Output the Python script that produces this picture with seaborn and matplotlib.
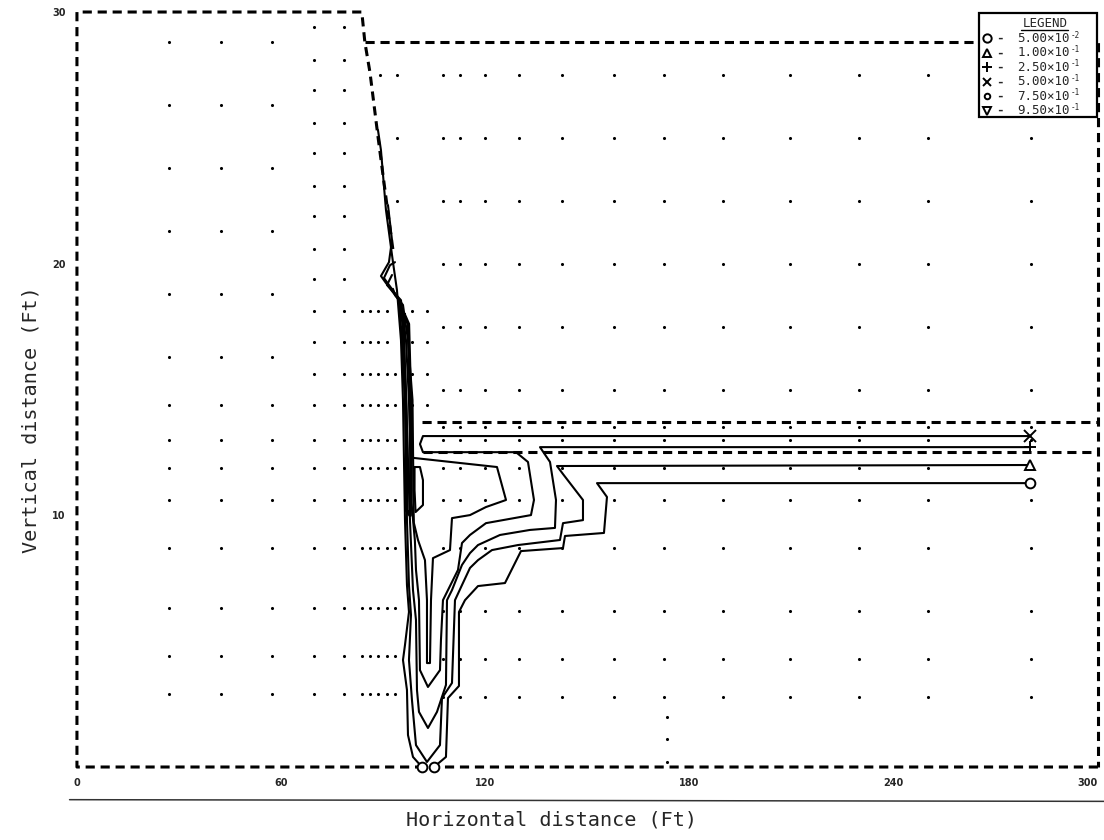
import numpy as np
import pandas as pd
import matplotlib
matplotlib.use("Agg")
import matplotlib.pyplot as plt
from matplotlib.lines import Line2D
import seaborn as sns

# ---- mesh nodes (ft) ----
left_cols = [27.0, 42.3, 57.3]
left_rows = [28.8, 26.3, 23.8, 21.3, 18.8, 16.3, 14.4, 13.0, 11.9, 10.6, 8.7, 6.3, 4.4, 2.9]
mid_cols = [69.6, 78.5, 83.7, 86.1, 88.5, 91.2, 93.5]
mid_rows = [29.4, 28.1, 26.9, 25.6, 24.4, 23.1, 21.9, 20.6, 19.4, 18.1, 16.9, 15.6,
            14.4, 13.0, 11.9, 10.6, 8.7, 6.3, 4.4, 2.9]
near_cols = [98.4, 102.9]
right_cols = [89.0, 94.0, 107.6, 112.5, 119.9, 129.9, 142.5, 157.8, 172.5, 189.8,
              209.5, 229.8, 250.1, 280.3]
right_rows = [27.5, 25.0, 22.5, 20.0, 17.5, 15.0, 13.5, 13.0, 11.9, 10.6, 8.7, 6.2, 4.3, 2.8]
extra_x = [173.4, 173.4, 173.4]
extra_y = [2.0, 1.1, 0.2]

# ---- domain boundary (ft) ----
slope_x = [96.8, 96.5, 95.5, 92.9, 91.4, 88.5, 86.1, 84.6, 83.7]
slope_y = [0.0, 12.0, 16.0, 20.5, 22.0, 25.0, 27.6, 28.8, 30.0]
outer_x = [300, 0, 0, 83.7, 84.6, 86.1, 88.5, 91.4, 92.9]
outer_y = [0, 0, 30, 30, 28.8, 27.6, 25.0, 22.0, 20.5]
pond_x = [84.6, 300, 300]
pond_y = [28.8, 28.8, 0]
layer_top = 13.7
layer_bot = 12.5
layer_x0 = 101.4

# ---- concentration contours (ft) ----
c_005 = [(280.05, 11.28), (152.81, 11.28), (155.74, 10.73), (154.86, 9.30), (143.40, 9.18),
         (142.82, 8.70), (130.47, 8.58), (125.77, 7.31), (117.84, 7.19), (114.02, 6.63),
         (112.25, 6.16), (112.25, 3.22), (109.02, 2.74), (108.43, 0.40), (104.91, 0.0)]
c_005_left = [(101.38, 0.0), (98.74, 0.40), (97.27, 1.27), (96.97, 3.06), (95.80, 4.25),
              (96.39, 4.85), (97.56, 6.16), (96.97, 7.23), (96.39, 9.81), (96.09, 12.20),
              (95.80, 14.58), (95.21, 16.96), (94.03, 18.95), (92.86, 20.06), (90.80, 22.13),
              (89.33, 24.51), (88.45, 25.31)]
c_010 = [(280.05, 12.00), (141.05, 11.96), (142.82, 11.64), (148.69, 10.61), (148.69, 9.81),
         (142.82, 9.69), (141.93, 9.02), (129.59, 8.82), (121.95, 8.62), (117.84, 8.22),
         (115.49, 7.91), (113.14, 7.23), (111.08, 6.63), (110.20, 3.34), (107.26, 2.74),
         (106.67, 0.87), (102.85, 0.20), (99.62, 0.87), (98.44, 2.66), (97.56, 4.25),
         (98.15, 6.04), (97.56, 7.23), (96.97, 9.81), (96.68, 12.20), (96.39, 14.58),
         (95.50, 16.96), (94.62, 18.55), (90.80, 19.23), (89.33, 19.51), (91.68, 20.06),
         (92.57, 20.94), (91.39, 22.33)]
c_025 = [(280.05, 12.71), (136.06, 12.71), (139.00, 12.12), (140.76, 10.61), (140.46, 9.50),
         (133.12, 9.42), (124.30, 9.22), (117.84, 8.82), (115.49, 8.50), (113.14, 8.03),
         (110.20, 7.03), (108.73, 6.63), (108.43, 3.26), (105.79, 2.19), (103.14, 1.55),
         (100.50, 2.19), (99.91, 3.06), (99.62, 5.84), (98.74, 7.03), (97.85, 9.81),
         (97.27, 12.20), (96.68, 14.58), (96.09, 16.96), (94.92, 18.55), (90.21, 19.43),
         (91.98, 19.94), (93.45, 20.06)]
c_050 = [(280.05, 13.15), (101.67, 13.15), (100.79, 12.83), (101.67, 12.51), (129.00, 12.51),
         (132.53, 12.12), (134.29, 10.61), (133.41, 10.01), (120.19, 9.69), (115.49, 9.22),
         (113.14, 8.90), (111.96, 7.83), (107.55, 6.63), (106.96, 5.05), (106.67, 3.85),
         (103.14, 3.18), (100.79, 3.85), (100.50, 6.63), (99.62, 7.83), (99.30, 9.00),
         (98.30, 10.50), (98.00, 12.00), (97.56, 14.58), (96.68, 16.96), (95.21, 18.55),
         (91.10, 19.15), (92.57, 19.55)]
c_075 = [(99.03, 12.28), (123.42, 11.92), (126.07, 10.61), (120.19, 10.33), (115.49, 10.01),
         (110.20, 9.89), (109.61, 8.62), (104.61, 8.30), (104.03, 6.63), (103.73, 4.13),
         (102.85, 4.13), (102.85, 6.63), (102.26, 8.22), (100.21, 9.02), (99.00, 9.70),
         (98.80, 11.00), (98.80, 12.00), (98.60, 14.58), (97.27, 16.96), (95.80, 18.36),
         (93.45, 18.75), (92.86, 19.00)]
c_095 = [(99.20, 11.92), (100.79, 11.92), (101.67, 11.40), (101.67, 10.41), (99.50, 10.13),
         (99.20, 11.00), (99.20, 11.92)]
c_095_wall = [(96.10, 18.00), (97.40, 17.60), (98.00, 14.60), (98.20, 12.60), (97.90, 10.00),
              (96.80, 10.20), (96.90, 12.60), (96.60, 14.60), (95.90, 16.80), (96.10, 18.00)]

# ---- legend ----
leg_marks = ["o", "^", "+", "x", "o", "v"]
leg_sizes = [6, 6, 7, 6, 4, 6]
leg_mant = ["5.00", "1.00", "2.50", "5.00", "7.50", "9.50"]
leg_exp = ["-2", "-1", "-1", "-1", "-1", "-1"]

xticks = [0, 60, 120, 180, 240, 300]
yticks = [10, 20, 30]

sns.set_style("white")
plt.rcParams["font.family"] = ["DejaVu Sans"]

fig = plt.figure(figsize=(11.04, 8.4), dpi=100)
ax = fig.add_axes([0.0697, 0.0869, 0.9248, 0.8988])
ax.set_xlim(0, 300)
ax.set_ylim(0, 30)
for s in ax.spines.values():
    s.set_visible(False)


# mesh dots
def slope_at(y):
    return np.interp(y, slope_y, slope_x)


pts = []
for x in left_cols:
    for y in left_rows:
        pts.append((x, y))
for x in mid_cols:
    for y in mid_rows:
        if x < slope_at(y) - 2.0 and (x < 80 or y < 19):
            pts.append((x, y))
for x in near_cols:
    for y in mid_rows:
        if x > slope_at(y) + 1.5 and 13.5 < y < 19:
            pts.append((x, y))
for x in right_cols:
    for y in right_rows:
        if x > slope_at(y) + 1.5:
            pts.append((x, y))
pts += list(zip(extra_x, extra_y))
nodes = pd.DataFrame(pts, columns=["x", "y"])
sns.scatterplot(data=nodes, x="x", y="y", s=5, color="black", linewidth=0, ax=ax, zorder=2)

# dashed boundaries
dash = dict(color="black", lw=2.2, dashes=(3, 1.9), clip_on=False, zorder=3)
ax.plot(outer_x, outer_y, **dash)
ax.plot(pond_x, pond_y, **dash)
ax.plot([layer_x0, 300], [layer_top, layer_top], **dash)
ax.plot([layer_x0 + 0.3, 300], [layer_bot, layer_bot], **dash)


def trace(pts_list, lw=1.5):
    df = pd.DataFrame(pts_list, columns=["x", "y"])
    sns.lineplot(data=df, x="x", y="y", sort=False, estimator=None,
                 color="black", lw=lw, ax=ax, zorder=4)
    return df


for c in [c_005, c_005_left, c_010, c_025, c_050, c_075, c_095]:
    trace(c)
trace(c_095_wall, lw=2.5)

mk = dict(color="black", mfc="white", mec="black", mew=1.4, zorder=9, clip_on=False, ls="none")
ax.plot(c_005[0][0], c_005[0][1], marker="o", ms=7, **mk)
ax.plot(c_005[-1][0], c_005[-1][1], marker="o", ms=7, **mk)
ax.plot(c_005_left[0][0], c_005_left[0][1], marker="o", ms=7, **mk)
ax.plot(c_010[0][0], c_010[0][1], marker="^", ms=7, **mk)
ax.plot(c_025[0][0], c_025[0][1], marker="+", ms=9, **mk)
ax.plot(c_050[0][0], c_050[0][1], marker="x", ms=8, **mk)

# legend box drawn as on the plotter output
x0, y0, w, h = 0.884, 0.861, 0.115, 0.138
ax.add_patch(plt.Rectangle((x0, y0), w, h, transform=ax.transAxes, fc="white",
                           ec="black", lw=1.6, zorder=7, clip_on=False))
ax.text(0.948, 0.985, "LEGEND", transform=ax.transAxes, ha="center", va="center",
        fontsize=9, family="DejaVu Sans Mono", zorder=8)
ax.plot([0.925, 0.971], [0.9765, 0.9765], transform=ax.transAxes, color="black", lw=1,
        zorder=8, clip_on=False)
for i, (m, sz, mant, ex) in enumerate(zip(leg_marks, leg_sizes, leg_mant, leg_exp)):
    yy = 0.9650 - i * 0.0191
    ax.plot(0.8915, yy, marker=m, ms=sz, transform=ax.transAxes, **mk)
    ax.text(0.9035, yy, "-", transform=ax.transAxes, ha="center", va="center",
            fontsize=9, fontweight="bold", family="DejaVu Sans Mono", zorder=8)
    ax.text(0.921, yy, mant + "\u00d710", transform=ax.transAxes,
            ha="left", va="center", fontsize=9, family="DejaVu Sans Mono", zorder=8)
    ax.text(0.9735, yy + 0.0045, ex, transform=ax.transAxes,
            ha="left", va="center", fontsize=5.5, family="DejaVu Sans Mono", zorder=8)

ax.set_xticks(xticks)
ax.set_xticklabels([str(t) for t in xticks], fontsize=7, fontweight="bold")
ax.get_xticklabels()[-1].set_ha("right")
ax.set_yticks(yticks)
ax.set_yticklabels([str(t) for t in yticks], fontsize=7, fontweight="bold")
ax.tick_params(length=0, pad=8)

ax.set_xlabel("Horizontal distance (Ft)", family="DejaVu Sans Mono", fontsize=14.5)
ax.set_ylabel("Vertical distance (Ft)", family="DejaVu Sans Mono", fontsize=14.5)
ax.xaxis.set_label_coords(0.465, -0.057)
ax.yaxis.set_label_coords(-0.036, 0.46)

# scan line under the tick labels
fig.add_artist(Line2D([0.063, 1.0], [0.048, 0.046], color="black", lw=1.1, alpha=0.8))

fig.savefig("out.png", dpi=100)
